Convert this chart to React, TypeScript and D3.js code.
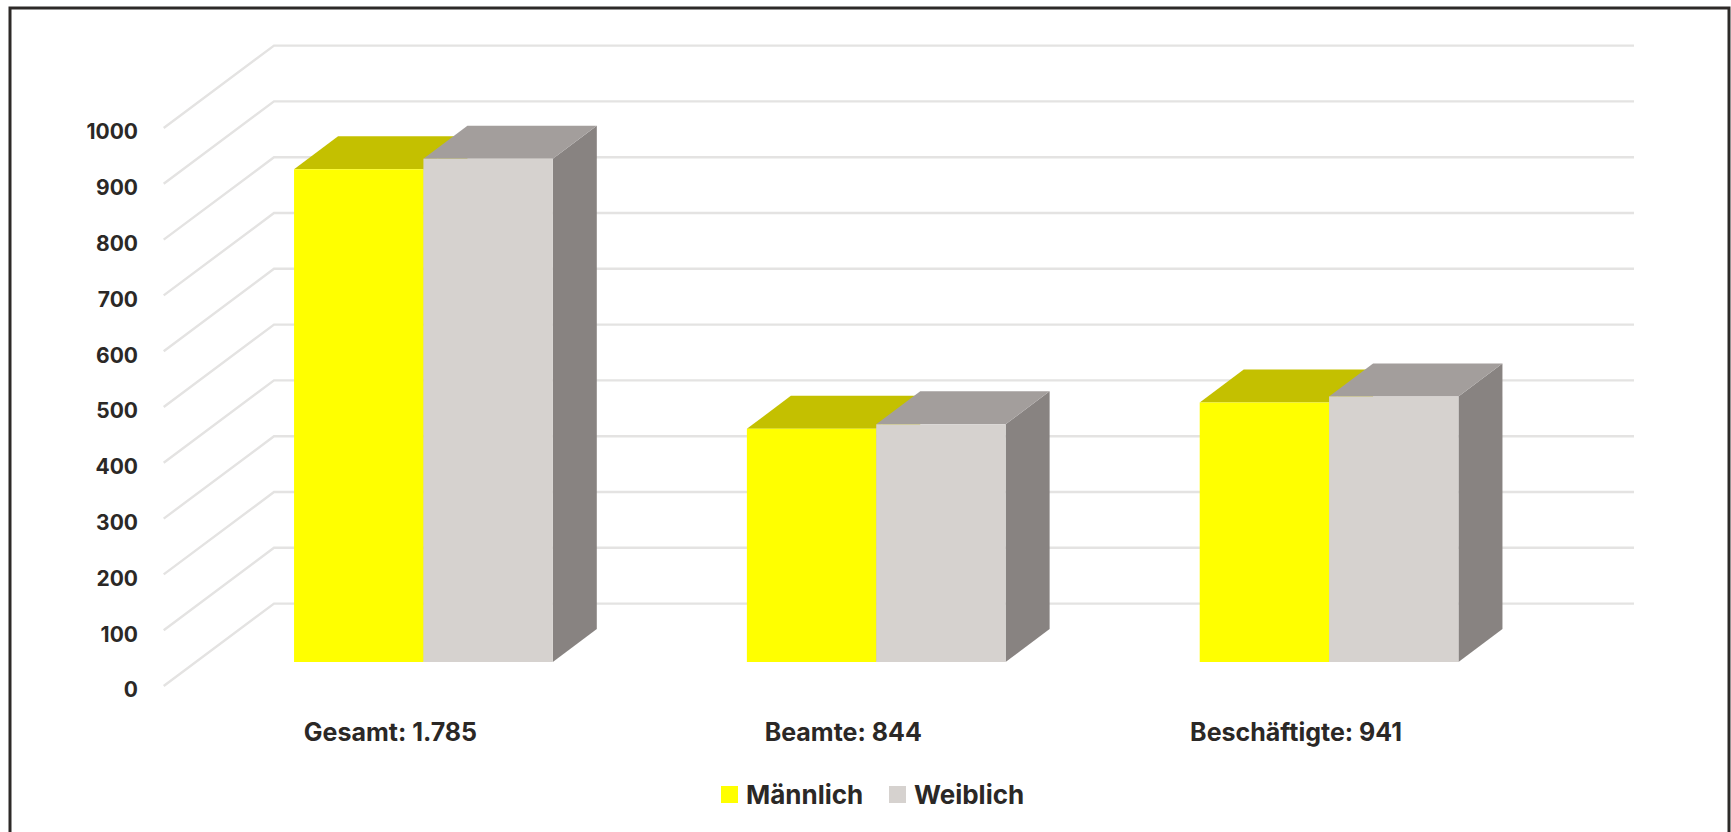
import React from "react";
import * as d3 from "d3";

const categories = ["Gesamt: 1.785", "Beamte: 844", "Beschäftigte: 941"];
const maleValues = [883, 418, 465];
const femaleValues = [902, 426, 476];
const yTicks = [0, 100, 200, 300, 400, 500, 600, 700, 800, 900, 1000];
const legendLabels = ["Männlich", "Weiblich"];

const FONT = "Inter, 'Noto Sans', sans-serif";
const TEXT = "#2b2826";
const GRID = "#e4e3e2";

const W = 1731;
const H = 832;
const y = d3.scaleLinear().domain([0, 1000]).range([662, 104]);
const x0 = d3.scaleBand<string>().domain(categories).range([197, 1555.5]).paddingInner(0.4286).paddingOuter(0.2143);
const DX = 44;
const DY = 33;
const frontDx = -130;
const frontDy = 24;
const backDy = -58.4;
const gridRight = 1634;

const series = [
  { values: maleValues, front: "#ffff00", top: "#c4c000", side: "#c4c000", offset: 0 },
  { values: femaleValues, front: "#d6d2cf", top: "#a39e9c", side: "#888381", offset: 1 },
];

function poly(points: [number, number][]) {
  return (d3.line()(points) ?? "") + "Z";
}

export default function App() {
  const bw = x0.bandwidth() / 2;
  const x1 = 293.7;
  const left = x1 + frontDx;
  const back = left + 110.3;
  return (
    <svg width={W} height={H} viewBox={`0 0 ${W} ${H}`} style={{ position: "absolute", left: 0, top: 0, display: "block" }}>
      <rect width={W} height={H} fill="#fff" />
      <path d={`M10 ${H}V8H1729V${H}`} fill="none" stroke="#2d2a28" strokeWidth={3} />
      {yTicks.map((t) => {
        const yy = y(t);
        return (
          <g key={t}>
            <path
              d={d3.line()([
                [left, yy + frontDy],
                [back, yy + backDy],
                [gridRight, yy + backDy],
              ]) ?? ""}
              fill="none"
              stroke={GRID}
              strokeWidth={2.4}
            />
            <text x={138} y={yy + frontDy + 4} dy="0.35em" textAnchor="end" fontFamily={FONT} fontWeight={700} fontSize={21} fill={TEXT}>
              {t}
            </text>
          </g>
        );
      })}
      {categories.map((c, i) => {
        const gx = x0(c) as number;
        return (
          <g key={c}>
            {[series[0], series[1]].map((s) => {
              const bx = gx + s.offset * bw;
              const yt = y(s.values[i]);
              const yb = y(0);
              return (
                <g key={s.front}>
                  <path d={poly([[bx + bw, yb], [bx + bw + DX, yb - DY], [bx + bw + DX, yt - DY], [bx + bw, yt]])} fill={s.side} />
                  <path d={poly([[bx, yt], [bx + DX, yt - DY], [bx + bw + DX, yt - DY], [bx + bw, yt]])} fill={s.top} />
                  <rect x={bx} y={yt} width={bw} height={yb - yt} fill={s.front} />
                </g>
              );
            })}
            <text x={gx + bw - 33} y={741} textAnchor="middle" fontFamily={FONT} fontWeight={700} fontSize={25} fill={TEXT}>
              {c}
            </text>
          </g>
        );
      })}
      {legendLabels.map((l, i) => {
        const sx = [721, 889][i];
        return (
          <g key={l}>
            <rect x={sx} y={786} width={17} height={17} fill={series[i].front} />
            <text x={sx + 25} y={804} fontFamily={FONT} fontWeight={700} fontSize={26} fill={TEXT}>
              {l}
            </text>
          </g>
        );
      })}
    </svg>
  );
}
